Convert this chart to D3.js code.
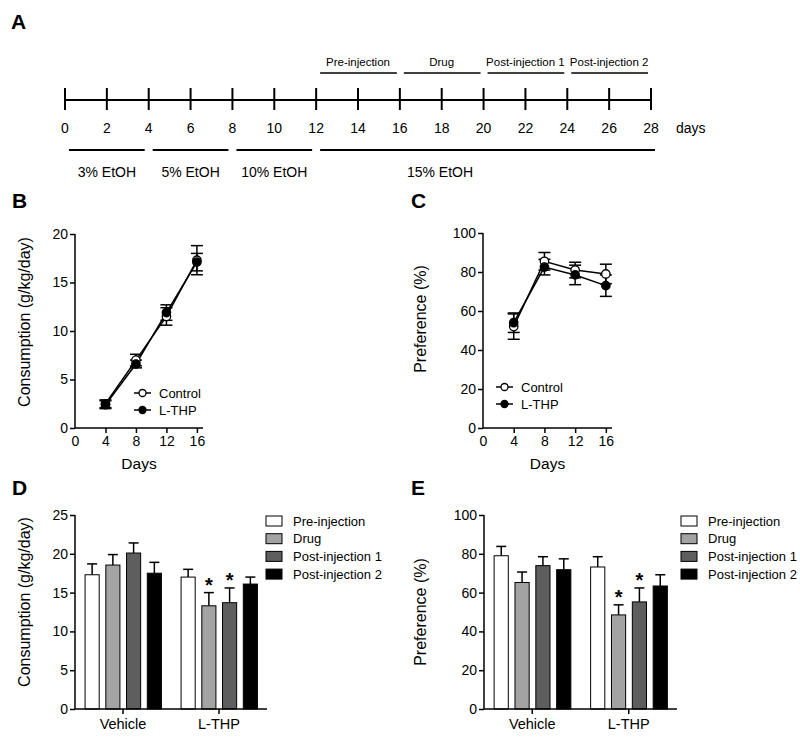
<!DOCTYPE html>
<html><head><meta charset="utf-8">
<script src="https://cdn.jsdelivr.net/npm/d3@7"></script>
<style>body{margin:0;background:#fff}svg{display:block;font-family:"Liberation Sans",Arial,sans-serif}</style>
</head><body><svg id="c" width="800" height="741"></svg>
<script>
// ---------- DATA ----------
const timelineDays = d3.range(0, 29, 2);
const injectionPhases = [
  {label:"Pre-injection", start:12, end:16},
  {label:"Drug", start:16, end:20},
  {label:"Post-injection 1", start:20, end:24},
  {label:"Post-injection 2", start:24, end:28}
];
const ethanolPhases = [
  {label:"3% EtOH", start:0, end:4},
  {label:"5% EtOH", start:4, end:8},
  {label:"10% EtOH", start:8, end:12},
  {label:"15% EtOH", start:12, end:28}
];
const days = [4, 8, 12, 16];
const consControl = [2.5, 7.0, 11.5, 17.3];
const consControlErr = [0.4, 0.6, 0.9, 1.5];
const consLTHP = [2.4, 6.6, 11.9, 17.1];
const consLTHPErr = [0.4, 0.4, 0.8, 0.9];
const prefControl = [52, 85.5, 81, 79];
const prefControlErr = [6.5, 4.5, 4, 5];
const prefLTHP = [54, 82.5, 78.5, 73];
const prefLTHPErr = [5, 4, 5, 5.5];
const groups = ["Vehicle", "L-THP"];
const phases = ["Pre-injection", "Drug", "Post-injection 1", "Post-injection 2"];
const phaseColors = ["#ffffff", "#a3a3a3", "#5e5e5e", "#000000"];
const consBars = [[17.3, 18.55, 20.1, 17.5], [17.0, 13.3, 13.7, 16.1]];
const consBarsErr = [[1.4, 1.35, 1.3, 1.4], [1.0, 1.7, 1.9, 0.9]];
const prefBars = [[79, 65.2, 73.9, 71.8], [73.2, 48.5, 55.2, 63.4]];
const prefBarsErr = [[4.8, 5.4, 4.6, 5.6], [5.3, 5.2, 7.2, 5.8]];
const sigMarks = [[false,false,false,false],[false,true,true,false]];

// ---------- DRAW ----------
const svg = d3.select("#c");
const FS = 14;

function panelLetter(t, x, y){
  svg.append("text").attr("x",x).attr("y",y).attr("font-size",21).attr("font-weight","bold").text(t);
}
panelLetter("A", 11, 29);
panelLetter("B", 12, 208);
panelLetter("C", 411, 208);
panelLetter("D", 12, 495);
panelLetter("E", 411, 495);

// Panel A timeline
(function(){
  const x = d3.scaleLinear().domain([0,28]).range([65,651]);
  const g = svg.append("g");
  g.append("line").attr("x1",x(0)).attr("x2",x(28)).attr("y1",100).attr("y2",100).attr("stroke","#000").attr("stroke-width",2);
  g.selectAll(".tk").data(timelineDays).join("line")
    .attr("x1",d=>x(d)).attr("x2",d=>x(d)).attr("y1",88).attr("y2",110).attr("stroke","#000").attr("stroke-width",2);
  g.selectAll(".tl").data(timelineDays).join("text")
    .attr("x",d=>x(d)).attr("y",133).attr("text-anchor","middle").attr("font-size",FS).text(d=>d);
  g.append("text").attr("x",676).attr("y",133).attr("font-size",FS).text("days");
  g.selectAll(".ip").data(injectionPhases).join("line")
    .attr("x1",d=>x(d.start)+4).attr("x2",d=>x(d.end)-3).attr("y1",73).attr("y2",73).attr("stroke","#000").attr("stroke-width",1.5);
  g.selectAll(".ipt").data(injectionPhases).join("text")
    .attr("x",d=>(x(d.start)+x(d.end))/2).attr("y",66).attr("text-anchor","middle").attr("font-size",11.5).text(d=>d.label);
  g.selectAll(".ep").data(ethanolPhases).join("line")
    .attr("x1",d=>x(d.start)+4).attr("x2",(d,i)=>x(d.end)-(i===ethanolPhases.length-1?-4:4)).attr("y1",150).attr("y2",150).attr("stroke","#000").attr("stroke-width",2);
  g.selectAll(".ept").data(ethanolPhases).join("text")
    .attr("x",(d,i)=> i===ethanolPhases.length-1 ? 440 : (x(d.start)+x(d.end))/2).attr("y",177).attr("text-anchor","middle").attr("font-size",FS).text(d=>d.label);
})();

function styleAxis(g){
  g.selectAll("path,line").attr("stroke","#000").attr("stroke-width",1.5);
  g.selectAll("text").attr("font-size",FS).attr("fill","#000").attr("font-family","Liberation Sans, Arial, sans-serif");
}

function linePanel(x0, x1, yBottom, yTop, yMax, yTicks, series, ylabel, ylabX, ylabY, legendX, legendY){
  const x = d3.scaleLinear().domain([0,16.8]).range([x0,x1]);
  const y = d3.scaleLinear().domain([0,yMax]).range([yBottom,yTop]);
  const g = svg.append("g");
  const ya = g.append("g").attr("transform",`translate(${x0},0)`).call(d3.axisLeft(y).tickValues(yTicks).tickSize(5).tickPadding(2).tickFormat(d3.format("d")));
  const xa = g.append("g").attr("transform",`translate(0,${yBottom})`).call(d3.axisBottom(x).tickValues([0,4,8,12,16]).tickSize(5).tickPadding(3).tickFormat(d3.format("d")));
  [ya,xa].forEach(styleAxis);
  ya.select(".domain").attr("d",`M0,${yBottom}V${yTop}`);
  xa.select(".domain").attr("d",`M${x0},0H${x1}`);
  xa.selectAll(".tick").filter(d=>d===0).select("line").remove();
  g.append("text").attr("x",(x0+x1)/2).attr("y",yBottom+41).attr("text-anchor","middle").attr("font-size",15.5).text("Days");
  g.append("text").attr("transform",`translate(${ylabX},${ylabY}) rotate(-90)`).attr("text-anchor","middle").attr("font-size",16).text(ylabel);
  const line = d3.line().x((d,i)=>x(days[i])).y(d=>y(d));
  series.forEach(s=>{
    g.append("path").datum(s.vals).attr("d",line).attr("fill","none").attr("stroke","#000").attr("stroke-width",1.5);
  });
  series.forEach(s=>{
    const eb = g.append("g");
    s.vals.forEach((v,i)=>{
      const cx = x(days[i]);
      eb.append("line").attr("x1",cx).attr("x2",cx).attr("y1",y(v-s.err[i])).attr("y2",y(v+s.err[i])).attr("stroke","#000").attr("stroke-width",1.5);
      [v-s.err[i], v+s.err[i]].forEach(e=>eb.append("line").attr("x1",cx-6).attr("x2",cx+6).attr("y1",y(e)).attr("y2",y(e)).attr("stroke","#000").attr("stroke-width",1.5));
    });
  });
  series.forEach(s=>{
    g.selectAll(null).data(s.vals).join("circle").attr("cx",(d,i)=>x(days[i])).attr("cy",d=>y(d)).attr("r",4.2)
      .attr("fill",s.fill).attr("stroke","#000").attr("stroke-width",1.3);
  });
  series.forEach((s,k)=>{
    const ly = legendY + k*17;
    g.append("line").attr("x1",legendX).attr("x2",legendX+17).attr("y1",ly).attr("y2",ly).attr("stroke","#000").attr("stroke-width",1.5);
    g.append("circle").attr("cx",legendX+8.5).attr("cy",ly).attr("r",3.5).attr("fill",s.fill).attr("stroke","#000").attr("stroke-width",1.3);
    g.append("text").attr("x",legendX+25).attr("y",ly+4.5).attr("font-size",13).text(s.name);
  });
}

linePanel(75, 203, 428, 234, 20, [0,5,10,15,20],
  [{name:"Control",vals:consControl,err:consControlErr,fill:"#fff"},{name:"L-THP",vals:consLTHP,err:consLTHPErr,fill:"#000"}],
  "Consumption (g/kg/day)", 30, 322, 134, 393);
linePanel(483, 612, 428, 233, 100, [0,20,40,60,80,100],
  [{name:"Control",vals:prefControl,err:prefControlErr,fill:"#fff"},{name:"L-THP",vals:prefLTHP,err:prefLTHPErr,fill:"#000"}],
  "Preference (%)", 426, 319, 496, 387);

function barPanel(x0, x1, yBottom, yTop, yMax, yTicks, vals, errs, ylabel, ylabX, ylabY, legendX){
  const xg = d3.scaleBand().domain(groups).range([x0,x1]).padding(0);
  const bw = xg.bandwidth();
  const xi = d3.scaleBand().domain(phases).range([bw*0.105, bw*0.9]).paddingInner(0.32).paddingOuter(0);
  const y = d3.scaleLinear().domain([0,yMax]).range([yBottom,yTop]);
  const g = svg.append("g");
  groups.forEach((gr,gi)=>{
    phases.forEach((ph,pi)=>{
      const bx = xg(gr)+xi(ph), w = xi.bandwidth(), v = vals[gi][pi], e = errs[gi][pi];
      const cx = bx + w/2;
      g.append("line").attr("x1",cx).attr("x2",cx).attr("y1",y(v)).attr("y2",y(v+e)).attr("stroke","#000").attr("stroke-width",1.5);
      g.append("line").attr("x1",cx-5).attr("x2",cx+5).attr("y1",y(v+e)).attr("y2",y(v+e)).attr("stroke","#000").attr("stroke-width",1.5);
      g.append("rect").attr("x",bx).attr("y",y(v)).attr("width",w).attr("height",yBottom-y(v))
        .attr("fill",phaseColors[pi]).attr("stroke","#000").attr("stroke-width",1);
      if(sigMarks[gi][pi]) g.append("text").attr("x",cx).attr("y",y(v+e)-1).attr("text-anchor","middle").attr("font-size",20).attr("font-weight","bold").text("*");
    });
  });
  const ya = g.append("g").attr("transform",`translate(${x0},0)`).call(d3.axisLeft(y).tickValues(yTicks).tickSize(5).tickPadding(2).tickFormat(d3.format("d")));
  const xa = g.append("g").attr("transform",`translate(0,${yBottom})`).call(d3.axisBottom(xg).tickSize(5).tickPadding(5));
  [ya,xa].forEach(styleAxis);
  ya.select(".domain").attr("d",`M0,${yBottom}V${yTop}`);
  xa.select(".domain").attr("d",`M${x0},0H${x1}`);
  xa.selectAll("text").attr("font-size",14.5);
  g.append("text").attr("transform",`translate(${ylabX},${ylabY}) rotate(-90)`).attr("text-anchor","middle").attr("font-size",16).text(ylabel);
  phases.forEach((ph,pi)=>{
    const ly = 521 + pi*17.7;
    g.append("rect").attr("x",legendX).attr("y",ly-5).attr("width",16).attr("height",10).attr("fill",phaseColors[pi]).attr("stroke","#000").attr("stroke-width",1);
    g.append("text").attr("x",legendX+27).attr("y",ly+4.5).attr("font-size",13).text(ph);
  });
}

barPanel(75, 267, 709, 515, 25, [0,5,10,15,20,25], consBars, consBarsErr, "Consumption (g/kg/day)", 30, 602, 266);
barPanel(484, 677, 709, 515, 100, [0,20,40,60,80,100], prefBars, prefBarsErr, "Preference (%)", 426, 612, 681);
</script></body></html>
